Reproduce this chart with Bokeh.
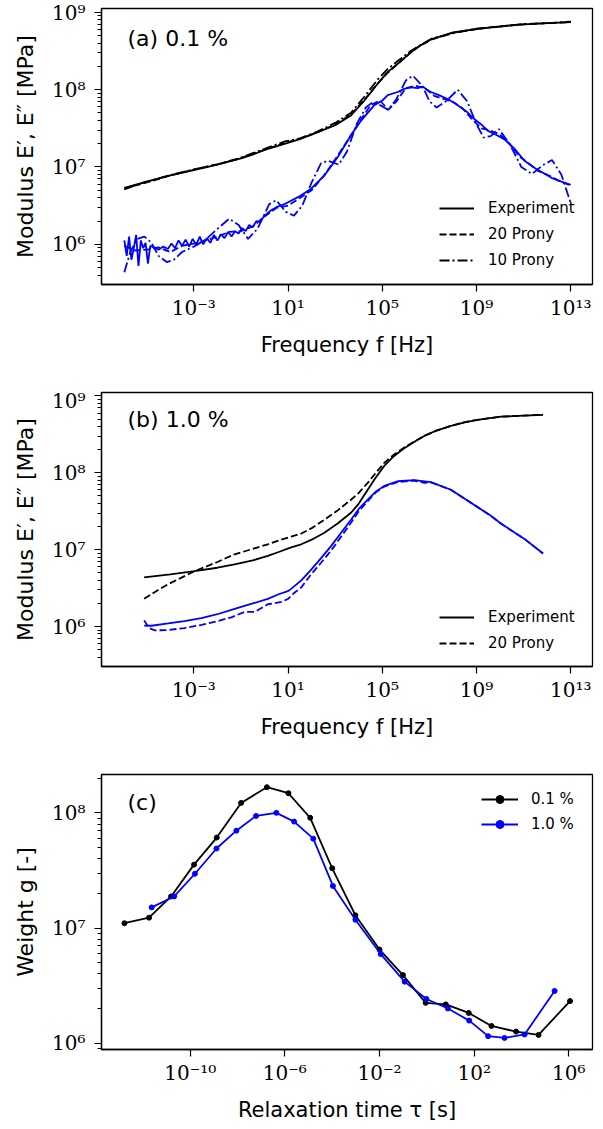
import numpy as np
from bokeh.plotting import figure
from bokeh.layouts import column
from bokeh.models import (Range1d, FixedTicker, CustomJSTickFormatter, Legend,
                          LegendItem, Label)
from bokeh.embed import file_html
from bokeh.resources import INLINE

# ---------------- data (log10 units) ----------------
# Panel (a) 0.1 %  -- x: log10 f [Hz], y: log10 E [MPa]
a_store_exp_logf = [-5.95, -5.5, -5.0, -4.0, -3.0, -2.0, -1.0, -0.5, 0.0, 0.85, 1.5, 2.26, 3.0, 3.67,
                    4.24, 4.8, 5.2, 5.65, 6.2, 6.6, 7.1, 8.0, 9.0, 10.0, 11.0, 12.0, 13.0]
a_store_exp_logE = [6.73, 6.77, 6.81, 6.89, 6.96, 7.03, 7.11, 7.16, 7.22, 7.30, 7.36, 7.45, 7.54, 7.666,
                    7.86, 8.076, 8.22, 8.335, 8.48, 8.57, 8.655, 8.74, 8.785, 8.82, 8.845, 8.86, 8.875]
a_store_p20_logE = [6.72, 6.76, 6.80, 6.89, 6.965, 7.035, 7.115, 7.17, 7.22, 7.31, 7.365, 7.45, 7.55, 7.68,
                    7.87, 8.08, 8.21, 8.33, 8.48, 8.57, 8.65, 8.735, 8.785, 8.82, 8.845, 8.86, 8.875]
a_store_p10_logE = [6.71, 6.76, 6.81, 6.895, 6.97, 7.035, 7.12, 7.18, 7.235, 7.33, 7.37, 7.46, 7.57, 7.70,
                    7.91, 8.13, 8.26, 8.37, 8.50, 8.575, 8.66, 8.73, 8.79, 8.815, 8.85, 8.86, 8.88]

a_loss_exp_logf = [-5.95, -5.85, -5.75, -5.65, -5.55, -5.45, -5.35, -5.25, -5.15, -5.05, -4.95, -4.85,
                   -4.7, -4.5, -4.3, -4.1, -3.95, -3.8, -3.65, -3.5, -3.35, -3.2, -3.05, -2.9, -2.75,
                   -2.6, -2.45, -2.3, -2.15, -2.0, -1.85, -1.7, -1.55, -1.4, -1.25, -1.1, -0.95, -0.8,
                   -0.65, -0.5, -0.35, -0.2, 0.0, 0.28, 0.5, 0.85, 1.1, 1.42, 1.98, 2.54, 3.11, 3.67,
                   4.1, 4.66, 5.0, 5.23, 5.65, 5.93, 6.22, 6.5, 6.71, 6.9, 7.06, 7.4, 7.77, 8.1, 8.33,
                   8.6, 8.9, 9.2, 9.47, 9.8, 10.17, 10.6, 11.03, 11.5, 12.18, 12.6, 13.0]
a_loss_exp_logE = [6.05, 5.85, 6.10, 5.80, 5.95, 6.12, 5.72, 6.05, 5.95, 6.02, 5.75, 5.98,
                   5.96, 5.93, 5.97, 5.94, 6.01, 5.95, 6.05, 5.98, 6.06, 5.97, 6.07, 5.99, 6.10,
                   6.00, 6.08, 6.02, 6.12, 6.05, 6.13, 6.08, 6.16, 6.10, 6.17, 6.14, 6.21, 6.17,
                   6.25, 6.22, 6.30, 6.29, 6.37, 6.44, 6.48, 6.52, 6.56, 6.61, 6.72, 6.89, 7.13, 7.41,
                   7.60, 7.80, 7.86, 7.93, 7.97, 8.01, 8.03, 8.02, 8.04, 8.00, 7.97, 7.93, 7.88, 7.82, 7.77,
                   7.71, 7.62, 7.55, 7.47, 7.42, 7.36, 7.24, 7.08, 6.98, 6.86, 6.81, 6.77]
a_loss_p20_logf = [-5.95, -5.5, -5.0, -4.5, -4.0, -3.5, -3.0, -2.5, -2.0, -1.5, -1.0, -0.5, 0.0, 0.5,
                   1.0, 1.5, 2.0, 2.5, 3.0, 3.5, 4.0, 4.5, 4.9, 5.25, 5.6, 6.0, 6.4, 6.8, 7.2, 7.6,
                   8.0, 8.4, 8.8, 9.2, 9.6, 10.0, 10.4, 10.8, 11.2, 11.6, 12.0, 12.5, 13.0]
a_loss_p20_logE = [5.98, 5.92, 5.93, 5.96, 5.90, 5.98, 6.01, 6.05, 6.10, 6.16, 6.17, 6.23, 6.36, 6.47,
                   6.50, 6.60, 6.70, 6.88, 7.10, 7.33, 7.57, 7.80, 7.86, 7.74, 7.85, 8.02, 8.05, 8.02,
                   7.92, 7.88, 7.84, 7.76, 7.62, 7.50, 7.47, 7.42, 7.30, 7.14, 7.05, 6.95, 6.90, 6.82, 6.76]
a_loss_p10_logf = [-5.95, -5.7, -5.4, -5.1, -4.8, -4.5, -4.15, -3.85, -3.5, -3.0, -2.5, -2.0, -1.5,
                   -1.1, -0.7, -0.3, 0.2, 0.5, 0.9, 1.25, 1.6, 2.0, 2.4, 2.7, 3.15, 3.5, 3.9, 4.3,
                   4.6, 4.9, 5.25, 5.6, 6.0, 6.3, 6.7, 7.0, 7.3, 7.7, 8.2, 8.6, 9.0, 9.3, 9.6, 9.95,
                   10.4, 10.9, 11.35, 11.8, 12.2, 12.6, 13.0]
a_loss_p10_logE = [5.64, 5.90, 6.07, 6.10, 6.02, 5.85, 5.77, 5.80, 5.90, 5.97, 6.06, 6.20, 6.33,
                   6.25, 6.07, 6.20, 6.52, 6.57, 6.42, 6.37, 6.50, 6.80, 7.05, 7.08, 7.03, 7.20, 7.55, 7.77,
                   7.84, 7.80, 7.74, 7.88, 8.12, 8.18, 8.05, 7.85, 7.77, 7.85, 8.00, 7.85, 7.55, 7.38, 7.40, 7.49,
                   7.30, 7.00, 6.91, 7.02, 7.09, 6.90, 6.53]

# Panel (b) 1.0 %
b_store_logf = [-5.11, -4.0, -2.97, -2.0, -1.27, -0.5, 0.14, 0.6, 1.13, 1.56, 2.0, 2.54, 3.1, 3.67, 4.0,
                4.38, 4.7, 5.08, 5.5, 5.93, 6.4, 6.78, 7.3, 7.91, 8.5, 9.04, 10.03, 11.0, 11.82]
b_store_exp_logE = [6.64, 6.68, 6.72, 6.765, 6.81, 6.86, 6.92, 6.97, 7.03, 7.07, 7.13, 7.22, 7.34, 7.48, 7.60,
                    7.78, 7.93, 8.09, 8.22, 8.32, 8.41, 8.48, 8.55, 8.61, 8.655, 8.69, 8.73, 8.745, 8.755]
b_store_p20_logf = [-5.11, -4.6, -4.09, -3.5, -2.97, -2.0, -1.27, -0.5, 0.14, 0.6, 1.13, 1.56, 2.0, 2.54, 3.1,
                    3.67, 4.0, 4.38, 4.7, 5.08, 5.5, 5.93, 6.4, 6.78, 7.3, 7.91, 8.5, 9.04, 10.03, 11.0, 11.82]
b_store_p20_logE = [6.36, 6.46, 6.55, 6.64, 6.72, 6.84, 6.94, 7.01, 7.07, 7.12, 7.17, 7.21, 7.28, 7.39, 7.51,
                    7.65, 7.74, 7.87, 7.99, 8.13, 8.24, 8.33, 8.415, 8.48, 8.55, 8.61, 8.66, 8.69, 8.73, 8.745, 8.755]
b_loss_exp_logf = [-5.11, -4.8, -4.09, -3.4, -2.68, -2.0, -1.27, -0.5, 0.14, 0.6, 0.99, 1.13, 1.56, 1.98,
                   2.4, 2.83, 3.25, 3.67, 4.0, 4.38, 4.7, 5.08, 5.65, 6.36, 7.06, 7.91, 8.76, 9.61, 10.03,
                   11.03, 11.82]
b_loss_exp_logE = [6.013, 6.01, 6.04, 6.07, 6.11, 6.16, 6.23, 6.30, 6.36, 6.42, 6.46, 6.49, 6.60, 6.74,
                   6.89, 7.05, 7.22, 7.39, 7.53, 7.65, 7.75, 7.83, 7.89, 7.905, 7.88, 7.78, 7.61, 7.44, 7.34,
                   7.14, 6.95]
b_loss_p20_logf = [-5.11, -4.9, -4.66, -4.09, -3.4, -2.68, -2.0, -1.41, -0.85, -0.42, 0.14, 0.71, 1.0, 1.27,
                   1.56, 1.98, 2.4, 2.83, 3.25, 3.67, 4.0, 4.38, 4.7, 5.08, 5.65, 6.36, 6.78, 7.06, 7.91,
                   8.76, 9.61, 10.03, 11.03, 11.82]
b_loss_p20_logE = [6.08, 5.98, 5.95, 5.955, 5.98, 6.02, 6.07, 6.12, 6.19, 6.19, 6.29, 6.32, 6.36, 6.44,
                   6.51, 6.68, 6.83, 6.99, 7.17, 7.35, 7.50, 7.63, 7.74, 7.82, 7.88, 7.90, 7.87, 7.875, 7.78,
                   7.61, 7.44, 7.34, 7.14, 6.95]

# Panel (c) Prony weights -- x: log10 tau [s], y: weight g
c_tau01_log = [-12.78, -11.74, -10.81, -9.84, -8.88, -7.85, -6.76, -5.85, -4.93, -4.0, -3.02, -2.0,
               -1.01, -0.05, 0.8, 1.77, 2.73, 3.77, 4.72, 6.05]
c_g01 = [1.1e7, 1.23e7, 1.88e7, 3.55e7, 6.1e7, 1.22e8, 1.67e8, 1.48e8, 9.06e7, 3.3e7, 1.29e7, 6.5e6,
         3.9e6, 2.24e6, 2.17e6, 1.83e6, 1.41e6, 1.26e6, 1.18e6, 2.32e6]
c_tau10_log = [-11.63, -10.68, -9.80, -8.89, -8.05, -7.22, -6.36, -5.61, -4.80, -3.97, -3.02, -1.95,
               -0.94, -0.02, 0.89, 1.79, 2.59, 3.28, 4.13, 5.40]
c_g10 = [1.51e7, 1.88e7, 2.96e7, 4.9e7, 7.0e7, 9.4e7, 1.0e8, 8.4e7, 5.97e7, 2.32e7, 1.18e7, 5.94e6,
         3.42e6, 2.42e6, 2.0e6, 1.57e6, 1.15e6, 1.11e6, 1.19e6, 2.84e6]

freq_ticks = [1e-3, 1e1, 1e5, 1e9, 1e13]
tau_ticks = [1e-10, 1e-6, 1e-2, 1e2, 1e6]
mod_ticks = [1e6, 1e7, 1e8, 1e9]
weight_ticks = [1e6, 1e7, 1e8]

# ---------------- helpers ----------------
BLUE = "#0000ff"
LW = 1.8
DASH = "7 3"
DASHDOT = "10 3 2 3"
SANS = "DejaVu Sans"
SERIF = "DejaVu Serif"

def p10(v):
    return 10.0 ** np.asarray(v, dtype=float)

sup_fmt = CustomJSTickFormatter(code="""
const sup = {'-':'\u207b','0':'\u2070','1':'\u00b9','2':'\u00b2','3':'\u00b3','4':'\u2074',
             '5':'\u2075','6':'\u2076','7':'\u2077','8':'\u2078','9':'\u2079'};
const e = Math.round(Math.log10(tick));
return '10' + String(e).split('').map(c => sup[c]).join('');
""")

def minor_list(lo, hi):
    out = []
    for d in range(int(np.floor(lo)) - 1, int(np.ceil(hi)) + 1):
        for m in range(2, 10):
            v = m * 10.0 ** d
            if lo <= np.log10(v) <= hi:
                out.append(v)
    return out

def make_fig(height, top, bottom, xr, yr, xticks, yticks, xlabel, ylabel):
    p = figure(width=603, height=height, x_axis_type="log", y_axis_type="log",
               x_range=Range1d(10 ** xr[0], 10 ** xr[1]), y_range=Range1d(10 ** yr[0], 10 ** yr[1]),
               output_backend="svg", toolbar_location=None,
               min_border_left=101, min_border_right=11, min_border_top=top, min_border_bottom=bottom)
    p.background_fill_color = "white"
    p.border_fill_color = "white"
    p.outline_line_color = "black"
    p.outline_line_width = 1.3
    p.grid.visible = False
    p.xaxis.ticker = FixedTicker(ticks=xticks, minor_ticks=[])
    p.yaxis.ticker = FixedTicker(ticks=yticks, minor_ticks=minor_list(yr[0], yr[1]))
    for ax in (p.xaxis[0], p.yaxis[0]):
        ax.formatter = sup_fmt
        ax.major_tick_in = 0
        ax.major_tick_out = 7
        ax.minor_tick_in = 0
        ax.minor_tick_out = 4
        ax.axis_line_width = 1.3
        ax.major_tick_line_width = 1.2
        ax.minor_tick_line_width = 1.0
        ax.major_label_text_font = SERIF
        ax.major_label_text_font_size = "20px"
        ax.major_label_text_color = "black"
        ax.axis_label_text_font = SANS
        ax.axis_label_text_font_size = "21px"
        ax.axis_label_text_font_style = "normal"
        ax.axis_label_text_color = "black"
    p.yaxis.axis_label_text_font_size = "22px"
    p.xaxis.major_label_standoff = 4
    p.xaxis.axis_label_standoff = 10
    p.yaxis.major_label_standoff = 9
    p.yaxis.axis_label_standoff = 11
    p.xaxis.axis_label = xlabel
    p.yaxis.axis_label = ylabel
    return p

def panel_label(p, text, xr, yr, fx, fy):
    x = 10 ** (xr[0] + fx * (xr[1] - xr[0]))
    y = 10 ** (yr[1] - fy * (yr[1] - yr[0]))
    p.add_layout(Label(x=x, y=y, text=text, text_font=SANS, text_font_size="22px",
                       text_baseline="middle", text_align="left", text_color="black"))

def add_legend(p, items, loc, glyph_w, standoff, spacing):
    lg = Legend(items=items, location=loc, orientation="vertical", glyph_width=glyph_w,
                glyph_height=20, label_height=20, spacing=spacing, label_standoff=standoff,
                padding=0, margin=0, border_line_alpha=0, background_fill_alpha=0,
                label_text_font=SANS, label_text_font_size="15px", label_text_color="black")
    p.add_layout(lg)

XR_F = (-6.92, 13.92)
YR_A = (5.48, 9.05)
YR_B = (5.48, 9.045)
XR_T = (-13.75, 7.0)
YR_C = (5.945, 8.333)

ylab_mod = "Modulus E\u2032, E\u2033 [MPa]"
xlab_f = "Frequency f [Hz]"

# ---------------- panel (a) ----------------
pa = make_fig(388, 8, 104, XR_F, YR_A, freq_ticks, mod_ticks, xlab_f, ylab_mod)
ra1 = pa.line(p10(a_store_exp_logf), p10(a_store_exp_logE), color="black", line_width=LW)
ra2 = pa.line(p10(a_store_exp_logf), p10(a_store_p20_logE), color="black", line_width=LW, line_dash=DASH)
ra3 = pa.line(p10(a_store_exp_logf), p10(a_store_p10_logE), color="black", line_width=LW, line_dash=DASHDOT)
pa.line(p10(a_loss_exp_logf), p10(a_loss_exp_logE), color=BLUE, line_width=LW)
pa.line(p10(a_loss_p20_logf), p10(a_loss_p20_logE), color=BLUE, line_width=LW, line_dash=DASH)
pa.line(p10(a_loss_p10_logf), p10(a_loss_p10_logE), color=BLUE, line_width=LW, line_dash=DASHDOT)
panel_label(pa, "(a) 0.1 %", XR_F, YR_A, 0.053, 0.109)
add_legend(pa, [LegendItem(label="Experiment", renderers=[ra1]),
                LegendItem(label="20 Prony", renderers=[ra2]),
                LegendItem(label="10 Prony", renderers=[ra3])], (338, 14), 35, 14, 6)

# ---------------- panel (b) ----------------
pb = make_fig(382, 4, 104, XR_F, YR_B, freq_ticks, mod_ticks, xlab_f, ylab_mod)
rb1 = pb.line(p10(b_store_logf), p10(b_store_exp_logE), color="black", line_width=LW)
rb2 = pb.line(p10(b_store_p20_logf), p10(b_store_p20_logE), color="black", line_width=LW, line_dash=DASH)
pb.line(p10(b_loss_exp_logf), p10(b_loss_exp_logE), color=BLUE, line_width=LW)
pb.line(p10(b_loss_p20_logf), p10(b_loss_p20_logE), color=BLUE, line_width=LW, line_dash=DASH)
panel_label(pb, "(b) 1.0 %", XR_F, YR_B, 0.053, 0.099)
add_legend(pb, [LegendItem(label="Experiment", renderers=[rb1]),
                LegendItem(label="20 Prony", renderers=[rb2])], (338, 13), 35, 14, 6)

# ---------------- panel (c) ----------------
pc = make_fig(359, 4, 80, XR_T, YR_C, tau_ticks, weight_ticks,
              "Relaxation time \u03c4 [s]", "Weight g [-]")
lc1 = pc.line(p10(c_tau01_log), c_g01, color="black", line_width=LW)
sc1 = pc.scatter(p10(c_tau01_log), c_g01, color="black", size=5)
lc2 = pc.line(p10(c_tau10_log), c_g10, color=BLUE, line_width=LW)
sc2 = pc.scatter(p10(c_tau10_log), c_g10, color=BLUE, size=5)
panel_label(pc, "(c)", XR_T, YR_C, 0.053, 0.101)
add_legend(pc, [LegendItem(label="0.1 %", renderers=[lc1, sc1]),
                LegendItem(label="1.0 %", renderers=[lc2, sc2])], (380, 215), 37, 13, 5)

layout = column(pa, pb, pc)
open("out.html", "w").write(file_html(layout, INLINE))
